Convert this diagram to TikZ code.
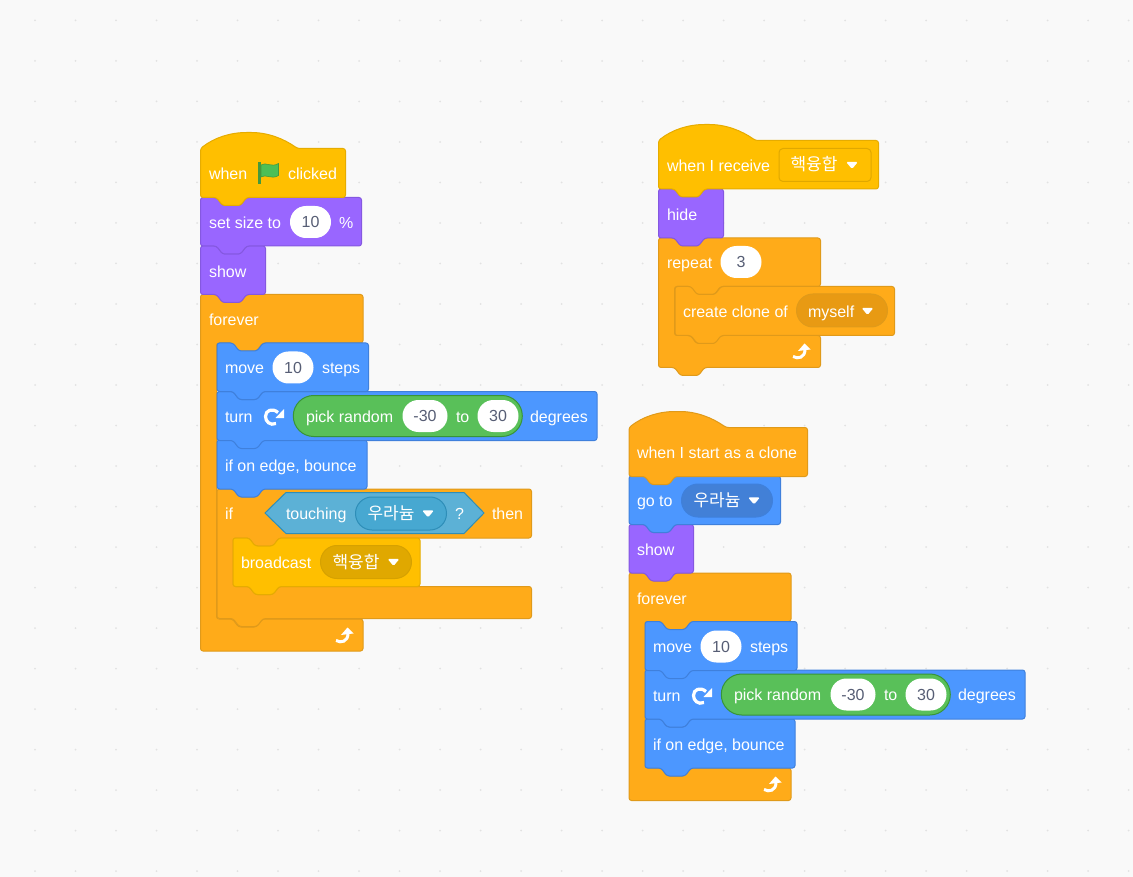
\documentclass[tikz,border=0pt]{standalone}
\usepackage{fontspec}
\setmainfont{Liberation Sans}
\newfontfamily\krfont{Noto Sans CJK KR}
\usepackage{tikz}

\definecolor{canvasbg}{HTML}{F9F9F9}
\definecolor{griddot}{HTML}{E2E2E2}
\definecolor{inktext}{HTML}{575E75}
\definecolor{hatfill}{HTML}{FFBF00}
\definecolor{hatline}{HTML}{E6AC00}
\definecolor{hatmenu}{HTML}{E0A800}
\definecolor{hatedge}{HTML}{D6A100}
\definecolor{ctrlfill}{HTML}{FFAB19}
\definecolor{ctrlline}{HTML}{E09A1A}
\definecolor{ctrlmenu}{HTML}{E89A13}
\definecolor{lookfill}{HTML}{9966FF}
\definecolor{lookline}{HTML}{8558E0}
\definecolor{motfill}{HTML}{4C97FF}
\definecolor{motline}{HTML}{3F80DC}
\definecolor{motmenu}{HTML}{4280D7}
\definecolor{opfill}{HTML}{59C059}
\definecolor{opline}{HTML}{389438}
\definecolor{flagfill}{HTML}{4CBF56}
\definecolor{flagline}{HTML}{45993D}
\definecolor{sensefill}{HTML}{5CB1D6}
\definecolor{senseline}{HTML}{2E8EB8}
\definecolor{sensemenu}{HTML}{47A8D1}

\tikzset{
  hatblk/.style={fill=hatfill,draw=hatline},
  ctrlblk/.style={fill=ctrlfill,draw=ctrlline},
  lookblk/.style={fill=lookfill,draw=lookline},
  motblk/.style={fill=motfill,draw=motline},
  senseblk/.style={fill=sensefill,draw=senseline},
  word/.style={anchor=base west,inner sep=0pt,xshift=-0.5pt,yshift=-0.4pt,text=white,font=\fontsize{16}{16}\selectfont},
  krword/.style={anchor=base west,inner sep=0pt,text=white,font=\fontsize{17}{17}\selectfont\krfont},
  numin/.style={fill=white,draw=none,rounded corners=15.9pt,minimum width=41pt,minimum height=32pt,
    inner sep=0pt,text height=11.5pt,text depth=0pt,text=inktext,font=\fontsize{16}{16}\selectfont},
  menupill/.style={rounded corners=16.4pt,minimum width=91pt,minimum height=33pt,inner sep=0pt},
  oppill/.style={fill=opfill,draw=opline,rounded corners=20.4pt,minimum width=229pt,minimum height=41pt,inner sep=0pt},
}

% x y width height style
\newcommand{\stackblock}[5]{
  \draw[#5,rounded corners=2.5pt] (#1,#2) -- ++(16,0) -- ++(6,8) -- ++(18,0) -- ++(6,-8) -- (#1+#3,#2)
    -- (#1+#3,#2+#4) -- (#1+46,#2+#4) -- ++(-6,8) -- ++(-18,0) -- ++(-6,-8) -- (#1,#2+#4) -- cycle;
}
% x y width height hump-width style
\newcommand{\hatblock}[6]{
  \draw[#6,rounded corners=2.5pt] (#1,#2) .. controls (#1+14,#2-11) and (#1+30,#2-16) .. (#1+#5/2,#2-16)
    .. controls (#1+#5-30,#2-16) and (#1+#5-14,#2-10) .. (#1+#5,#2) -- (#1+#3,#2)
    -- (#1+#3,#2+#4) -- (#1+46,#2+#4) -- ++(-6,8) -- ++(-18,0) -- ++(-6,-8) -- (#1,#2+#4) -- cycle;
}
% x y width arm inner-bottom lower-bottom lower-width style bottom-tab
\newcommand{\cblock}[9]{
  \draw[#8,rounded corners=2.5pt] (#1,#2) -- ++(16,0) -- ++(6,8) -- ++(18,0) -- ++(6,-8) -- (#1+#3,#2)
    -- (#1+#3,#4) -- (#1+62,#4) -- ++(-6,8) -- ++(-18,0) -- ++(-6,-8) -- (#1+16,#4)
    -- (#1+16,#5) -- ++(16,0) -- ++(6,8) -- ++(18,0) -- ++(6,-8) -- (#1+#7,#5)
    -- (#1+#7,#6) #9 -- (#1,#6) -- cycle;
}
\newcommand{\menuarrow}[2]{
  \fill[white,rounded corners=1.5pt] (#1-6,#2-3.2) -- (#1+6,#2-3.2) -- (#1,#2+4) -- cycle;
}
\newcommand{\loopicon}[2]{
  \draw[white,line width=3pt] (#1-8,#2+5) .. controls (#1-3,#2+8) and (#1+4,#2+6) .. (#1+4,#2-2);
  \fill[white] (#1-3,#2-0.5) -- (#1+3.5,#2-8) -- (#1+9.5,#2-2) -- cycle;
}
\newcommand{\turnicon}[2]{
  \draw[white,line width=3.2pt] (#1+3,#2+7) .. controls (#1-3,#2+9.5) and (#1-7.5,#2+5) .. (#1-7.5,#2)
    .. controls (#1-7.5,#2-6) and (#1-1,#2-9) .. (#1+5,#2-4);
  \fill[white] (#1+2.5,#2+1.5) -- (#1+11,#2+1.5) -- (#1+11,#2-7.5) -- cycle;
}
% name x y : the pick random row
\newcommand{\pickrow}[3]{
  \node[oppill] (#1pill) at (#2+190.8,#3+24.5) {};
  \node[word] (#1pick) at (#2+89,#3+30.5) {pick random};
  \node[numin,minimum width=45pt] (#1low) at (#2+208,#3+24.5) {-30};
  \node[word] (#1to) at (#2+239,#3+30.5) {to};
  \node[numin] (#1high) at (#2+281,#3+24.5) {30};
  \node[word] (#1deg) at (#2+313,#3+30.5) {degrees};
}

\begin{document}
\begin{tikzpicture}[x=1pt,y=-1pt,line width=1pt]
\useasboundingbox (0,0) rectangle (1133,877);
\fill[canvasbg] (0,0) rectangle (1133,877);
\foreach \gx in {0,...,27}
  \foreach \gy in {0,...,21}
    \fill[griddot] (35+\gx*40.5,20.5+\gy*40.5) circle (1);

% left stack, lower blocks first
\cblock{200.5}{294.5}{162.5}{343}{619}{651}{162.5}{ctrlblk}{}
\cblock{217}{489}{314.5}{538}{586.5}{618.5}{314.5}{ctrlblk}{-- (263,618.5) -- ++(-6,8) -- ++(-18,0) -- ++(-6,-8)}
\stackblock{233}{538}{187}{48.5}{hatblk}
\stackblock{217}{440}{150}{49}{motblk}
\stackblock{217}{391.5}{380}{49}{motblk}
\stackblock{217}{343}{151.5}{48.5}{motblk}
\stackblock{200.5}{246}{65}{48.5}{lookblk}
\stackblock{200.5}{197.5}{161}{48.5}{lookblk}
\hatblock{200.5}{148.5}{145}{49}{97}{hatblk}

\node[word] (whenword) at (209,179.5) {when};
\fill[flagline] (258.3,162) rectangle (261,184);
\draw[fill=flagfill,draw=flagline,line width=0.6pt] (261,165) .. controls (266,161.5) and (271,168) .. (278.5,163.5)
  -- (278.5,175.5) .. controls (271,180) and (266,173.5) .. (261,177) -- cycle;
\node[word] (clickedword) at (288,179.5) {clicked};
\node[word] (setword) at (209,228) {set size to};
\node[numin] (sizein) at (310.5,222) {10};
\node[word] (pctword) at (339,228) {\%};
\node[word] (showword) at (209,277) {show};
\node[word] (foreverword) at (209,325) {forever};
\node[word] (moveword) at (225,373.5) {move};
\node[numin] (movein) at (293,367.5) {10};
\node[word] (stepsword) at (322,373.5) {steps};
\node[word] (turnword) at (225,422) {turn};
\turnicon{273}{416.5}
\pickrow{lft}{217}{391.5}
\node[word] (bounceword) at (225,471) {if on edge, bounce};
\node[word] (ifword) at (225,519.5) {if};
\draw[senseblk] (265,513) -- (286,492.5) -- (464,492.5) -- (484,513) -- (464,533.5) -- (286,533.5) -- cycle;
\node[word] (touchword) at (286,519.5) {touching};
\node[menupill,fill=sensemenu,draw=senseline] (touchmenu) at (401,513.5) {};
\node[krword] (touchname) at (367,519.5) {우라늄};
\menuarrow{428}{513.5}
\node[word] (askword) at (455,519.5) {?};
\node[word] (thenword) at (492,519.5) {then};
\node[word] (sendword) at (241,568.5) {broadcast};
\node[menupill,fill=hatmenu,draw=hatedge] (sendmenu) at (366,562) {};
\node[krword] (sendname) at (332,568) {핵융합};
\menuarrow{393.5}{562}
\loopicon{344}{635.5}

% right stack at the top
\cblock{658.5}{238}{162}{286.5}{335.5}{367.5}{162}{ctrlblk}{-- (704.5,367.5) -- ++(-6,8) -- ++(-18,0) -- ++(-6,-8)}
\stackblock{675}{286.5}{219.5}{49}{ctrlblk}
\stackblock{658.5}{189}{65}{49}{lookblk}
\hatblock{658.5}{140.5}{220}{48.5}{97}{hatblk}

\node[word] (recvword) at (667,171) {when I receive};
\draw[fill=hatfill,draw=hatmenu,rounded corners=4pt] (779,148.5) rectangle (871,181.5);
\node[krword] (recvname) at (790,170.5) {핵융합};
\menuarrow{852}{165}
\node[word] (hideword) at (667,220) {hide};
\node[word] (repeatword) at (667,268.5) {repeat};
\node[numin] (repeatin) at (741,262) {3};
\node[word] (cloneword) at (683,317) {create clone of};
\node[menupill,fill=ctrlmenu,draw=ctrlline] (clonemenu) at (842,310.5) {};
\node[word] (selfword) at (808,317) {myself};
\menuarrow{867.5}{311}
\loopicon{801}{351.5}

% right stack at the bottom
\cblock{629}{573}{162}{621.5}{768}{800.5}{162}{ctrlblk}{}
\stackblock{645}{719}{150}{49}{motblk}
\stackblock{645}{670}{380}{49}{motblk}
\stackblock{645}{621.5}{152}{49}{motblk}
\stackblock{629}{524.5}{64.5}{48.5}{lookblk}
\stackblock{629}{476}{151.5}{48.5}{motblk}
\hatblock{629}{427.5}{178.5}{49}{97}{ctrlblk}

\node[word] (startword) at (637,458) {when I start as a clone};
\node[word] (gotoword) at (637,506.5) {go to};
\node[menupill,fill=motmenu,draw=motline] (gotomenu) at (727,500.5) {};
\node[krword] (gotoname) at (693,506.5) {우라늄};
\menuarrow{754}{500.5}
\node[word] (showtwo) at (637,555) {show};
\node[word] (forevertwo) at (637,604) {forever};
\node[word] (movetwo) at (653,652) {move};
\node[numin] (moveintwo) at (721,646.5) {10};
\node[word] (stepstwo) at (750,652) {steps};
\node[word] (turntwo) at (653,701) {turn};
\turnicon{701}{695.5}
\pickrow{rgt}{645}{670}
\node[word] (bouncetwo) at (653,750) {if on edge, bounce};
\loopicon{772}{784.5}
\end{tikzpicture}
\end{document}
